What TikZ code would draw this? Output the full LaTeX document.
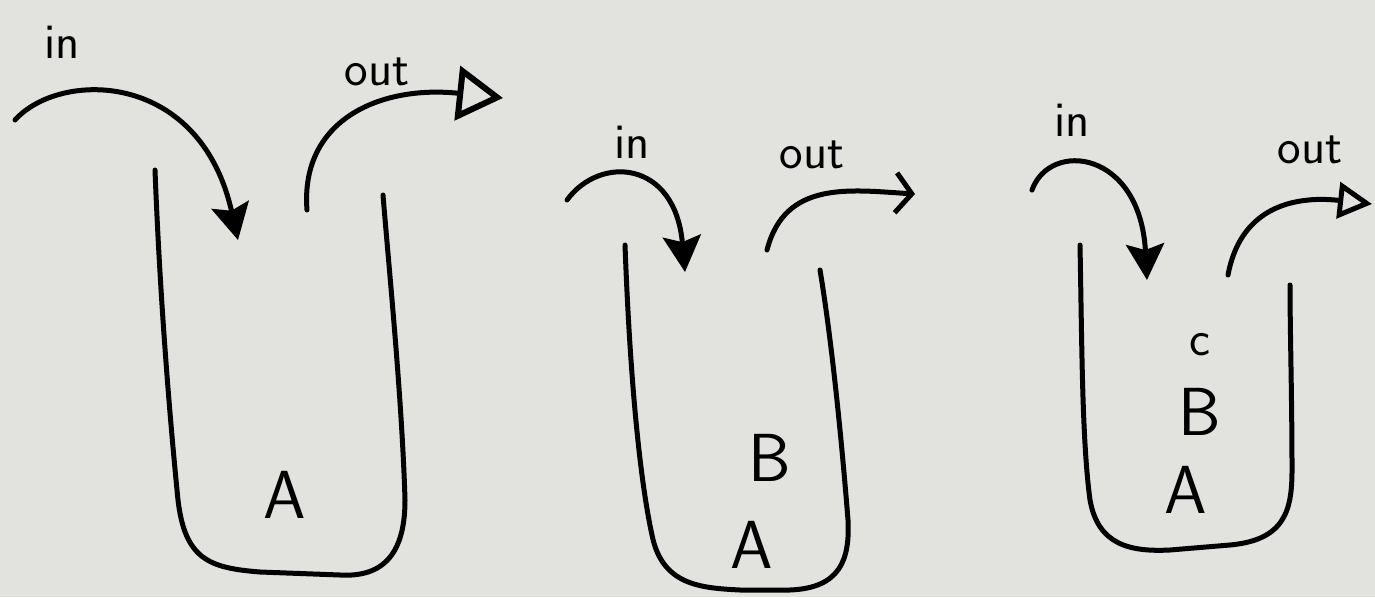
\documentclass[tikz,border=0pt]{standalone}
\usetikzlibrary{arrows.meta}
\definecolor{paper}{RGB}{226,226,223}
\begin{document}
\begin{tikzpicture}[x=1pt,y=-1pt,
  stroke/.style={line width=5pt,line cap=round,line join=round,black},
  inarrow/.style={stroke,-{Stealth[length=36pt,width=38pt,inset=6pt]}},
  outarrow/.style={stroke,-{Triangle[open,length=34pt,width=36pt,line width=5pt]}},
  bigout/.style={stroke,-{Triangle[open,length=46pt,width=54pt,line width=6pt]}},
  barbarrow/.style={stroke,-{Straight Barb[length=16pt,width=40pt,line width=5pt]}},
  lbl/.style={font=\sffamily\fontsize{50}{50}\selectfont,inner sep=0pt},
  big/.style={font=\sffamily\fontsize{68}{68}\selectfont,inner sep=0pt}]
\fill[paper] (0,0) rectangle (1375,597);
\useasboundingbox (0,0) rectangle (1375,597);

% stack 1
\coordinate (i1s) at (15,120);
\coordinate (i1e) at (238,240);
\coordinate (o1s) at (307,210);
\coordinate (o1e) at (503,98);
\draw[stroke] (155,170) .. controls (160,300) and (170,420) .. (178,500)
  .. controls (185,560) and (210,568) .. (260,572) -- (340,575)
  .. controls (390,578) and (405,545) .. (405,500)
  .. controls (402,400) and (390,280) .. (383,195);
\draw[inarrow] (i1s) .. controls (60,70) and (200,70) .. (i1e);
\draw[bigout] (o1s) .. controls (300,120) and (380,85) .. (o1e);
\node[lbl] (in1) at (62,42) {in};
\node[lbl] (out1) at (377,72) {out};
\node[big] (a1) at (285,495) {A};

% stack 2
\coordinate (i2s) at (567,200);
\coordinate (i2e) at (685,272);
\coordinate (o2s) at (767,250);
\coordinate (o2e) at (915,194);
\draw[stroke] (625,245) .. controls (630,380) and (640,480) .. (652,535)
  .. controls (662,585) and (700,588) .. (740,590) -- (790,590)
  .. controls (840,588) and (850,560) .. (848,520)
  .. controls (840,420) and (830,330) .. (820,270);
\draw[inarrow] (i2s) .. controls (600,155) and (675,160) .. (i2e);
\draw[barbarrow] (o2s) .. controls (785,180) and (850,190) .. (o2e);
\node[lbl] (in2) at (632,142) {in};
\node[lbl] (out2) at (812,155) {out};
\node[big] (b2) at (770,458) {B};
\node[big] (a2) at (752,545) {A};

% stack 3
\coordinate (i3s) at (1032,190);
\coordinate (i3e) at (1147,280);
\coordinate (o3s) at (1228,275);
\coordinate (o3e) at (1372,204);
\draw[stroke] (1080,245) .. controls (1082,350) and (1082,440) .. (1090,500)
  .. controls (1098,545) and (1130,552) .. (1170,550) -- (1230,545)
  .. controls (1285,540) and (1292,510) .. (1292,470)
  .. controls (1292,400) and (1290,330) .. (1290,285);
\draw[inarrow] (i3s) .. controls (1050,140) and (1140,150) .. (i3e);
\draw[outarrow] (o3s) .. controls (1240,210) and (1290,195) .. (o3e);
\node[lbl] (in3) at (1072,120) {in};
\node[lbl] (out3) at (1310,150) {out};
\node[lbl] (c3) at (1200,345) {c};
\node[big] (b3) at (1200,412) {B};
\node[big] (a3) at (1186,490) {A};
\end{tikzpicture}
\end{document}
